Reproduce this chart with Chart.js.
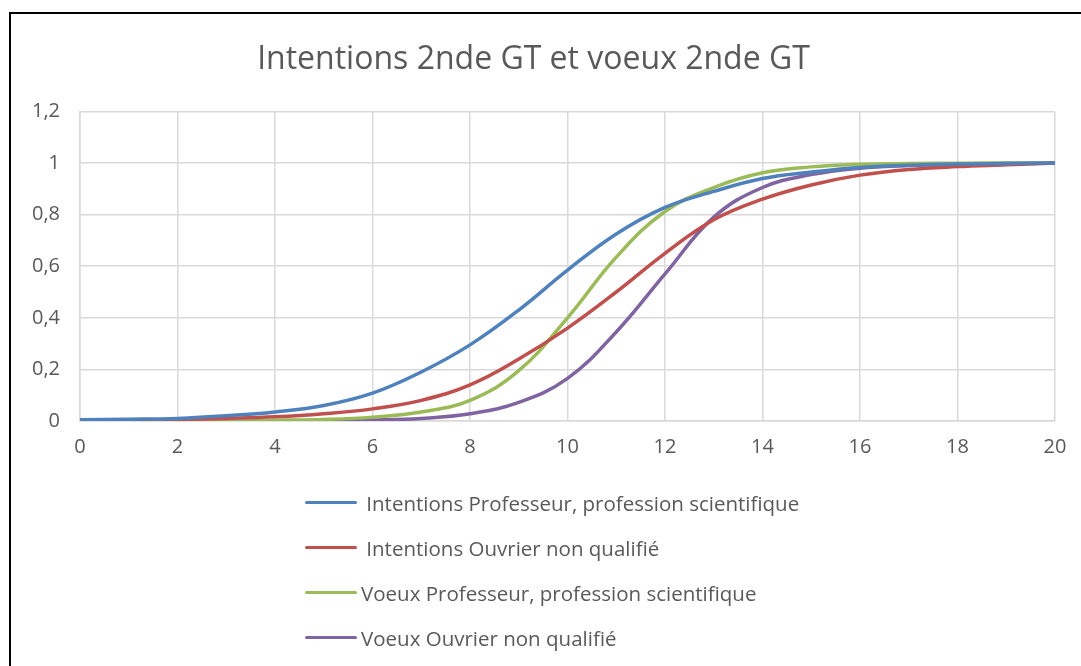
<!DOCTYPE html>
<html>
<head>
<meta charset="utf-8">
<script src="https://cdn.jsdelivr.net/npm/chart.js@4.4.1/dist/chart.umd.min.js"></script>
<style>
    html, body { margin: 0; padding: 0; background: #fff; }
    #wrap { position: relative; width: 1081px; height: 666px; overflow: hidden; }
    #frame { position: absolute; left: 9px; top: 12px; right: -5px; bottom: -5px;
             border-left: 2px solid #000; border-top: 2px solid #000; }
    #chart { position: absolute; left: 0; top: 0; }
    #legend { position: absolute; left: 305px; top: 480px; font-family: "Open Sans", sans-serif;
              font-size: 20.5px; color: #595959; }
    .item { height: 45px; display: flex; align-items: center; }
    .item .swatch { width: 52px; height: 3px; border-radius: 2px; margin-right: 4px; }
</style>
</head>
<body>
<div id="wrap">
    <div id="frame"></div>
    <canvas id="chart" width="1081" height="666"></canvas>
    <div id="legend"></div>
</div>
<script>
(function () {
    'use strict';

    var notes = [0, 1, 2, 3, 4, 5, 6, 7, 8, 9, 10, 11, 12, 13, 14, 15, 16, 17, 18, 19, 20];

    var intentionsProf = [0.005, 0.007, 0.01, 0.02, 0.035, 0.06, 0.108, 0.19, 0.295, 0.43, 0.585, 0.725, 0.828, 0.89, 0.94, 0.965, 0.983, 0.991, 0.996, 0.998, 1];
    var intentionsOuvrier = [0.002, 0.004, 0.006, 0.01, 0.016, 0.028, 0.047, 0.08, 0.14, 0.24, 0.36, 0.5, 0.65, 0.78, 0.86, 0.915, 0.953, 0.975, 0.986, 0.993, 1];
    var voeuxProf = [0, 0.0005, 0.001, 0.002, 0.003, 0.006, 0.015, 0.035, 0.08, 0.195, 0.4, 0.635, 0.812, 0.905, 0.962, 0.985, 0.995, 0.998, 0.999, 1, 1];
    var voeuxOuvrier = [0, 0, 0, 0, 0.001, 0.002, 0.004, 0.01, 0.028, 0.072, 0.165, 0.345, 0.57, 0.79, 0.905, 0.955, 0.98, 0.99, 0.996, 0.998, 1];

    var seriesNames = [
        ' Intentions Professeur, profession scientifique',
        ' Intentions Ouvrier non qualifié',
        'Voeux Professeur, profession scientifique',
        'Voeux Ouvrier non qualifié'
    ];
    var seriesValues = [intentionsProf, intentionsOuvrier, voeuxProf, voeuxOuvrier];
    var seriesColors = ['#4f81bd', '#c0504d', '#9bbb59', '#8064a2'];

    var yTicks = [0, 0.2, 0.4, 0.6, 0.8, 1, 1.2];

    function points(values) {
        return notes.map(function (x, i) { return { x: x, y: values[i] }; });
    }

    var datasets = seriesValues.map(function (values, i) {
        return {
            label: seriesNames[i],
            data: points(values),
            borderColor: seriesColors[i],
            backgroundColor: seriesColors[i],
            borderWidth: 3.5,
            pointRadius: 0,
            tension: 0.4,
            fill: false
        };
    });

    var ctx = document.getElementById('chart').getContext('2d');
    var chart = new Chart(ctx, {
        type: 'line',
        data: { datasets: datasets },
        options: {
            responsive: false,
            animation: false,
            layout: { padding: { left: 12, right: 26, top: 0, bottom: 193 } },
            plugins: {
                legend: { display: false },
                tooltip: { enabled: false },
                title: {
                    display: true,
                    text: 'Intentions 2nde GT et voeux 2nde GT',
                    color: '#595959',
                    font: { family: '"Open Sans", sans-serif', size: 32, weight: 'normal' },
                    padding: { top: 41, bottom: 32 }
                }
            },
            scales: {
                x: {
                    type: 'linear',
                    min: 0,
                    max: 20,
                    ticks: {
                        stepSize: 2,
                        color: '#595959',
                        padding: 14,
                        font: { family: '"Open Sans", sans-serif', size: 20 }
                    },
                    grid: { color: '#d9d9d9', lineWidth: 1.5, drawTicks: false },
                    border: { color: '#d9d9d9', width: 1.5 }
                },
                y: {
                    min: 0,
                    max: 1.2,
                    afterBuildTicks: function (axis) {
                        axis.ticks = yTicks.map(function (v) { return { value: v }; });
                    },
                    ticks: {
                        color: '#595959',
                        padding: 20,
                        font: { family: '"Open Sans", sans-serif', size: 20 },
                        callback: function (v) { return String(Math.round(v * 10) / 10).replace('.', ','); }
                    },
                    grid: { color: '#d9d9d9', lineWidth: 1.5, drawTicks: false },
                    border: { color: '#d9d9d9', width: 1.5 }
                }
            }
        }
    });

    var legend = document.getElementById('legend');
    chart.data.datasets.forEach(function (ds) {
        var row = document.createElement('div');
        row.className = 'item';
        var sw = document.createElement('span');
        sw.className = 'swatch';
        sw.style.background = ds.borderColor;
        var label = document.createElement('span');
        label.textContent = ds.label;
        label.style.whiteSpace = 'pre';
        row.appendChild(sw);
        row.appendChild(label);
        legend.appendChild(row);
    });
})();
</script>
</body>
</html>
